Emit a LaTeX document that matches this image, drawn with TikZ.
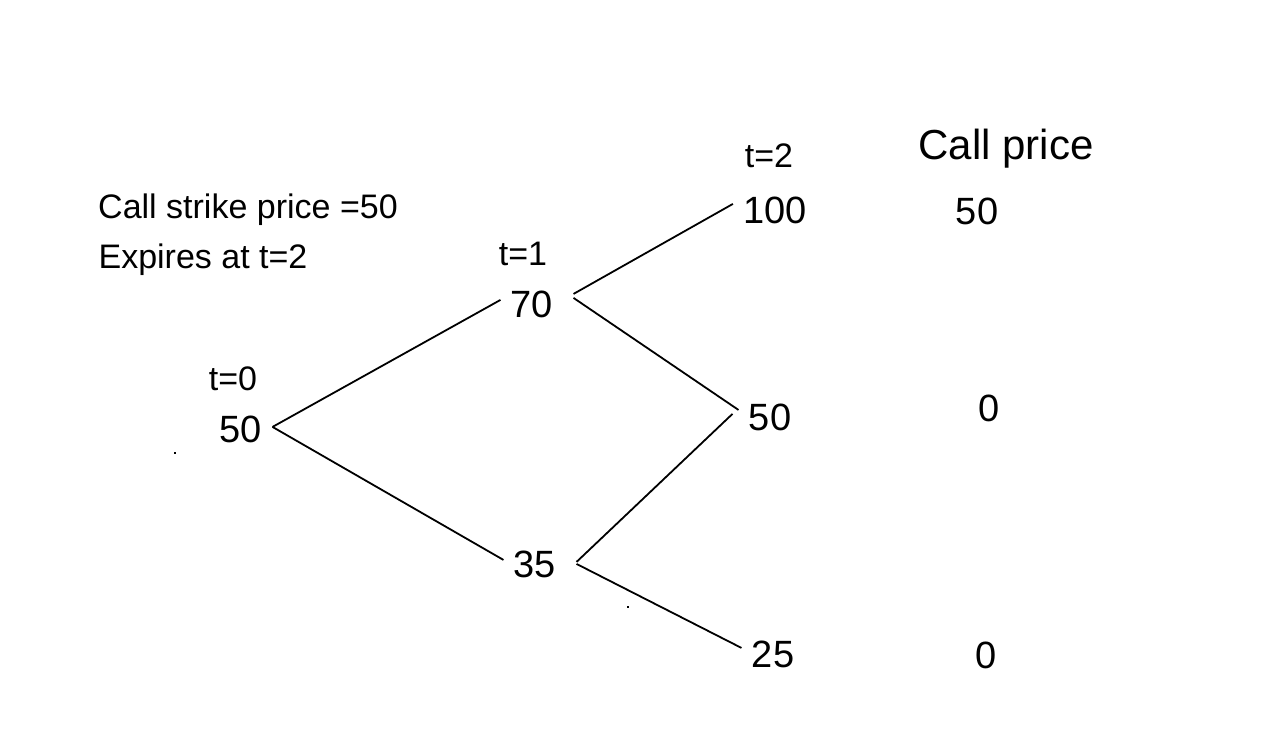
\documentclass[tikz,border=0pt]{standalone}
\usepackage{fontspec}
\setmainfont{Liberation Sans}
\begin{document}
\begin{tikzpicture}[x=0.5pt,y=-0.5pt,
 num/.style={font=\fontsize{19}{19}\selectfont, anchor=base, inner xsep=5pt, inner ysep=0pt},
 lab/.style={font=\fontsize{17}{17}\selectfont, anchor=base, inner sep=0pt},
 head/.style={font=\fontsize{21}{21}\selectfont, anchor=base, inner sep=0pt},
 edge/.style={line width=0.9pt},
 speck/.style={fill=black, minimum size=1.4pt, inner sep=0pt, draw=none}]
\useasboundingbox[fill=white] (0,0) rectangle (1280,738);
% text
\node[lab] (strike) at (248,218) {Call strike price =50};
\node[lab] (expires) at (203,268) {Expires at t=2};
\node[lab] (t0) at (233,390) {t=0};
\node[lab] (t1) at (523,265) {t=1};
\node[lab] (t2) at (769,168) {t=2};
\node[head] (cp) at (1006,160) {Call price};
% tree nodes
\node[num] (n0) at (241,442) {50};
\node[num] (n1u) at (532,317) {70};
\node[num] (n1d) at (535,577) {35};
\node[num] (n2a) at (775,223) {100};
\node[num] (n2b) at (770,430) {50};
\node[num] (n2c) at (773,667) {25};
% call prices
\node[num] (c1) at (977,224) {50};
\node[num] (c2) at (989,421) {0};
\node[num] (c3) at (986,668) {0};
% specks
\node[speck] (s1) at (175,453) {};
\node[speck] (s2) at (628,607) {};
% edges
\draw[edge] ([yshift=1pt]n0.east) -- ([yshift=2pt]n1u.west);
\draw[edge] ([yshift=1pt]n0.east) -- ([yshift=2pt]n1d.west);
\draw[edge] ([xshift=5pt,yshift=5pt]n1u.east) -- ([yshift=3pt]n2a.west);
\draw[edge] ([xshift=5pt,yshift=3pt]n1u.east) -- ([yshift=3.5pt]n2b.west);
\draw[edge] ([xshift=5pt,yshift=1pt]n1d.east) -- ([xshift=-3pt,yshift=1.5pt]n2b.west);
\draw[edge] ([xshift=5pt]n1d.east) -- ([yshift=3pt]n2c.west);
\end{tikzpicture}
\end{document}
